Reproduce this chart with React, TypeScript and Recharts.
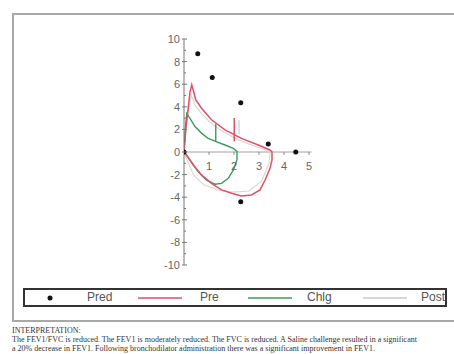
import React from 'react';
import { ComposedChart, Line, Scatter, XAxis, YAxis, ReferenceLine } from 'recharts';

// flow (L/s) vs volume (L)
const predPoints = [
  [0, 0], [0.55, 8.7], [1.13, 6.6], [2.27, 4.35], [3.37, 0.7], [4.47, 0], [2.27, -4.4],
];
const preLoop = [
  [0, 0], [0.08, 2.2], [0.17, 3.9], [0.24, 5.3], [0.31, 5.95], [0.38, 5.4], [0.47, 4.6],
  [0.71, 3.85], [1.1, 2.85], [1.64, 1.95], [2.3, 1.2], [2.97, 0.62], [3.44, 0.18], [3.52, 0],
  [3.52, -0.7], [3.44, -1.45], [3.24, -2.5], [3.04, -3.35], [2.7, -3.8], [2.3, -3.9],
  [1.9, -3.65], [1.5, -3.35], [1.1, -2.78], [0.71, -2.05], [0.37, -1.15], [0.1, -0.27], [0, 0],
];
const chlgLoop = [
  [0, 0], [0.05, 2.0], [0.11, 3.4], [0.24, 2.98], [0.44, 2.25], [0.71, 1.65], [0.97, 1.2],
  [1.31, 0.9], [1.64, 0.62], [1.97, 0.33], [2.12, 0.05], [2.12, -0.7], [1.97, -1.6],
  [1.77, -2.33], [1.5, -2.78], [1.24, -2.85], [0.9, -2.5], [0.57, -1.75], [0.24, -0.7], [0, 0],
];
const postLoop = [
  [0, 0], [0.12, 3.0], [0.3, 5.0], [0.45, 4.1], [0.7, 3.4], [1.1, 2.5], [1.6, 1.75],
  [2.2, 1.05], [2.9, 0.45], [3.4, 0.1], [3.45, 0], [3.4, -1.0], [3.1, -2.6], [2.6, -3.45],
  [2.0, -3.55], [1.4, -3.4], [0.8, -2.9], [0.4, -2.1], [0.1, -0.6], [0, 0],
];
// FEV1 markers
const preMarker = [[2.01, 0.95], [2.01, 3.0]];
const chlgMarker = [[1.27, 0.9], [1.27, 2.5]];
const postMarker = [[2.2, 1.6], [2.2, 2.8]];

const xTicks = [1, 2, 3, 4, 5];
const yTicks = [-10, -9, -8, -7, -6, -5, -4, -3, -2, -1, 0, 1, 2, 3, 4, 5, 6, 7, 8, 9, 10];

const seriesNames = ['Pred', 'Pre', 'Chlg', 'Post'];
const interpretation = [
  'INTERPRETATION:',
  'The FEV1/FVC is reduced. The FEV1 is moderately reduced. The FVC is reduced. A Saline challenge resulted in a significant',
  'a 20% decrease in FEV1. Following bronchodilator administration there was a significant improvement in FEV1.',
];

const COLORS = { Pred: '#111', Pre: '#e0506a', Chlg: '#3d9a5c', Post: '#dcd8d2' };

const toXY = (pts: number[][]) => pts.map(([x, y]) => ({ x, y }));

const YTick = (props: any) => {
  const { x, y, payload } = props;
  const v = payload.value;
  const major = v % 2 === 0;
  return (
    <g>
      <line x1={major ? x - 2 : x} x2={x + (major ? 3 : 2)} y1={y} y2={y} stroke="#777" strokeWidth={1} />
      {major && (
        <text x={x - 4} y={y} dy={4} textAnchor="end" fontSize={11} fill="#666" fontFamily="Liberation Sans, Arial">
          {v}
        </text>
      )}
    </g>
  );
};

const LegendLine = ({ color }: { color: string }) => (
  <svg width={44} height={6} style={{ display: 'block' }}>
    <line x1={0} x2={44} y1={3} y2={3} stroke={color} strokeWidth={1.5} />
  </svg>
);

export default function App() {
  return (
    <div style={{ position: 'absolute', left: 0, top: 0, width: 454, height: 354, overflow: 'hidden', background: '#fff' }}>
      <div style={{ position: 'absolute', left: 12, top: 13, width: 460, height: 305, border: '2px solid #a8a8a8' }} />
      <div style={{ position: 'absolute', left: 0, top: 0 }}>
        <ComposedChart width={454} height={354} margin={{ top: 39, right: 142.5, left: 154, bottom: 89 }}>
          <XAxis type="number" dataKey="x" domain={[0, 5.1]} hide allowDataOverflow />
          <YAxis
            type="number"
            dataKey="y"
            domain={[-10, 10]}
            ticks={yTicks}
            interval={0}
            width={30}
            tickSize={0}
            tickMargin={0}
            tickLine={false}
            axisLine={{ stroke: '#777' }}
            tick={<YTick />}
          />
          <ReferenceLine y={0} stroke="#a0a0a0" strokeWidth={1} />
          {xTicks.map((t) => (
            <ReferenceLine
              key={t}
              segment={[{ x: t, y: 0 }, { x: t, y: -0.25 }]}
              stroke="#888"
              label={{ value: String(t), position: 'bottom', offset: 7, fontSize: 11, fill: '#666', fontFamily: 'Liberation Sans, Arial' }}
            />
          ))}
          <Line data={toXY(postLoop)} dataKey="y" type="linear" stroke={COLORS.Post} strokeWidth={1.2} dot={false} isAnimationActive={false} />
          <Line data={toXY(postMarker)} dataKey="y" type="linear" stroke="#d0ccd4" strokeWidth={1.2} dot={false} isAnimationActive={false} />
          <Line data={toXY(chlgLoop)} dataKey="y" type="linear" stroke={COLORS.Chlg} strokeWidth={1.4} dot={false} isAnimationActive={false} />
          <Line data={toXY(chlgMarker)} dataKey="y" type="linear" stroke={COLORS.Chlg} strokeWidth={1.4} dot={false} isAnimationActive={false} />
          <Line data={toXY(preLoop)} dataKey="y" type="linear" stroke={COLORS.Pre} strokeWidth={1.5} dot={false} isAnimationActive={false} />
          <Line data={toXY(preMarker)} dataKey="y" type="linear" stroke={COLORS.Pre} strokeWidth={1.5} dot={false} isAnimationActive={false} />
          <Scatter
            data={toXY(predPoints)}
            dataKey="y"
            fill={COLORS.Pred}
            isAnimationActive={false}
            shape={(p: any) => <circle cx={p.cx} cy={p.cy} r={2.5} fill={COLORS.Pred} />}
          />
        </ComposedChart>
      </div>
      <div
        style={{
          position: 'absolute', left: 23, top: 288, width: 420, height: 15, border: '2px solid #333',
          fontFamily: 'Liberation Sans, Arial', fontSize: 12, color: '#555',
        }}
      >
        <svg width={10} height={10} style={{ position: 'absolute', left: 20, top: 3 }}>
          <circle cx={5} cy={5} r={2.5} fill={COLORS.Pred} />
        </svg>
        <span style={{ position: 'absolute', left: 62, top: 0 }}>{seriesNames[0]}</span>
        <div style={{ position: 'absolute', left: 113, top: 5 }}><LegendLine color={COLORS.Pre} /></div>
        <span style={{ position: 'absolute', left: 175, top: 0 }}>{seriesNames[1]}</span>
        <div style={{ position: 'absolute', left: 223, top: 5 }}><LegendLine color={COLORS.Chlg} /></div>
        <span style={{ position: 'absolute', left: 282, top: 0 }}>{seriesNames[2]}</span>
        <div style={{ position: 'absolute', left: 338, top: 5 }}><LegendLine color="#c8c8c8" /></div>
        <span style={{ position: 'absolute', right: 0, top: 0 }}>{seriesNames[3]}</span>
      </div>
      <div
        style={{
          position: 'absolute', left: 12, top: 326, whiteSpace: 'nowrap',
          fontFamily: 'Liberation Serif, Times New Roman', fontSize: 8, lineHeight: '9px', color: '#333',
        }}
      >
        {interpretation.map((l, i) => (
          <div key={i}>{l}</div>
        ))}
      </div>
    </div>
  );
}
